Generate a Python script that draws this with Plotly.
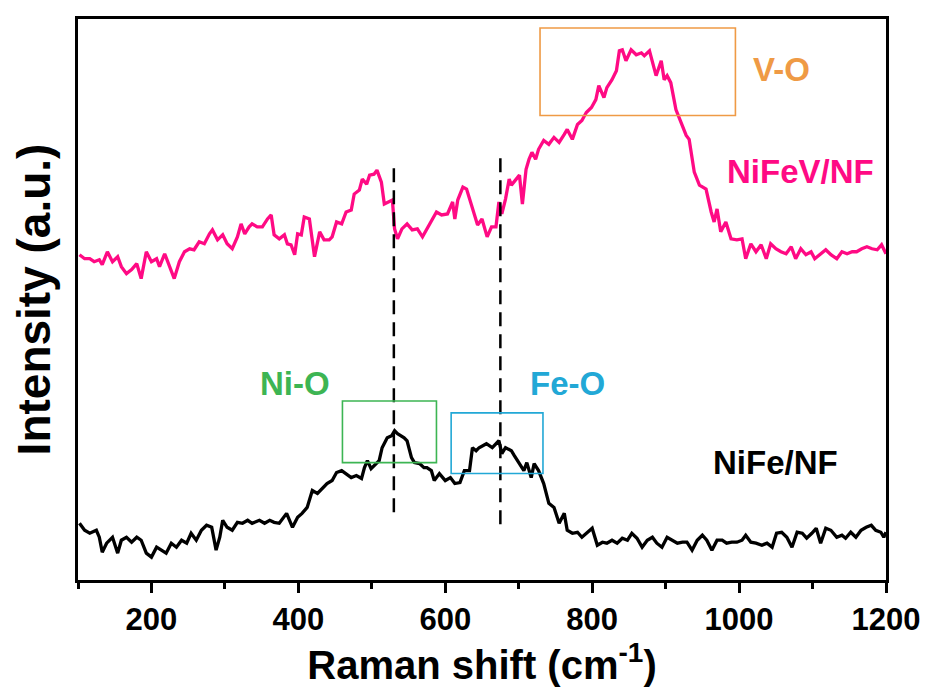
import plotly.graph_objects as go

# Raman shift (cm-1) and intensity (a.u.)
nifev_shift = [102,109,116,122,129,133,140,147,154,159,166,173,180,186,193,200,207,211,218,224,231,238,245,252,258,265,272,279,283,290,297,303,310,317,322,327,333,337,344,351,358,363,367,374,381,385,390,395,399,404,408,415,422,429,435,442,446,452,459,465,472,476,483,487,493,497,503,507,513,517,524,528,531,535,541,548,555,562,569,575,582,588,595,603,610,613,617,624,629,633,637,644,650,657,663,669,673,677,682,687,690,701,705,710,714,718,723,727,734,741,748,755,762,766,773,780,786,792,799,805,809,816,820,827,833,837,841,846,853,860,867,871,878,882,887,894,898,902,907,914,921,928,932,936,939,946,955,962,966,970,975,982,989,997,1004,1009,1016,1023,1030,1037,1043,1050,1057,1064,1071,1077,1084,1091,1098,1103,1110,1118,1125,1133,1140,1147,1154,1160,1167,1174,1181,1188,1194,1200]
nifev_int = [327,323,323,320,322,317,330,320,325,315,308,312,318,303,330,320,323,315,328,317,303,320,330,333,332,340,338,348,352,342,347,338,333,345,358,348,355,358,355,355,363,367,347,343,347,338,337,327,348,347,365,363,325,350,342,342,345,360,358,370,372,388,392,403,398,407,408,412,400,378,380,382,353,343,353,358,352,353,345,353,362,370,367,368,380,363,382,395,393,383,373,357,363,345,355,355,380,368,383,403,397,407,378,413,423,430,423,433,442,438,445,440,448,453,443,458,462,470,475,483,497,485,495,503,512,532,533,522,533,528,530,527,532,520,507,522,503,507,500,473,460,447,443,423,410,397,393,370,360,373,350,360,343,342,343,323,338,330,337,323,338,333,330,328,335,323,333,327,330,323,327,332,327,323,330,328,330,330,333,335,333,332,337,328]

nife_shift = [102,109,116,125,129,133,139,143,147,154,159,166,173,180,186,193,200,207,214,220,227,234,241,248,254,261,268,275,282,288,293,297,303,310,317,324,331,337,347,354,361,367,374,384,388,392,399,405,412,419,426,433,439,446,452,459,465,472,479,486,490,494,499,506,510,514,521,527,531,535,540,544,548,554,558,565,571,575,581,585,592,600,607,613,620,626,633,637,642,646,656,664,673,677,682,690,694,701,707,711,717,721,727,734,741,748,755,762,766,773,780,786,793,800,807,814,820,827,834,841,848,854,861,868,875,882,888,895,902,909,916,923,929,936,943,950,956,963,970,977,983,990,997,1004,1009,1016,1023,1031,1038,1045,1051,1058,1065,1072,1079,1086,1092,1099,1105,1111,1118,1125,1133,1140,1145,1152,1159,1166,1173,1180,1186,1193,1197,1200]
nife_int = [57,50,47,50,43,28,37,40,43,27,40,43,38,43,40,27,23,33,30,27,37,33,40,37,47,40,50,55,53,30,43,60,53,50,58,57,60,57,60,57,60,58,57,67,60,53,63,67,73,90,87,93,97,100,108,110,107,103,105,102,113,120,112,117,120,133,143,145,150,147,145,143,140,123,118,117,113,113,110,100,107,100,103,97,98,110,110,133,130,133,137,133,140,127,133,130,125,117,110,118,103,117,110,97,77,73,57,67,50,47,48,43,48,52,35,38,37,40,37,42,40,47,42,33,40,43,37,33,43,40,37,38,38,30,40,45,40,30,40,40,37,38,38,40,45,38,37,35,37,33,47,48,43,33,48,47,42,47,52,37,52,50,43,45,42,48,43,50,53,55,50,48,43,48]

peak_lines = [530, 675]
peak_line_top = [422, 428]
peak_line_bottom = [68, 56]

box_labels = ["Ni-O", "Fe-O", "V-O"]
box_x0 = [460, 608, 729]
box_x1 = [588, 733, 995]
box_y0 = [118, 107, 467]
box_y1 = [180, 168, 555]
box_colors = ["#3db553", "#22a8d6", "#ef9a45"]
label_x = [396, 766, 1058]
label_y = [198, 198, 513]

series_names = ["NiFeV/NF", "NiFe/NF"]
series_colors = ["#ff0a84", "#000000"]
series_label_x = [1083, 1049]
series_label_y = [411, 118]

x_range = [100, 1200]
y_range = [0, 564]

FONT = "Arial, Liberation Sans, sans-serif"

fig = go.Figure()
fig.add_trace(go.Scatter(x=nifev_shift, y=nifev_int, mode="lines", name=series_names[0],
                         line=dict(color=series_colors[0], width=3.3)))
fig.add_trace(go.Scatter(x=nife_shift, y=nife_int, mode="lines", name=series_names[1],
                         line=dict(color=series_colors[1], width=3.3)))

for xv, yt, yb in zip(peak_lines, peak_line_top, peak_line_bottom):
    fig.add_shape(type="line", x0=xv, x1=xv, y0=yb, y1=yt, xref="x", yref="y",
                  line=dict(color="black", width=2.5, dash="14px,8px"))

for x0, x1, y0, y1, c in zip(box_x0, box_x1, box_y0, box_y1, box_colors):
    fig.add_shape(type="rect", x0=x0, x1=x1, y0=y0, y1=y1, xref="x", yref="y",
                  line=dict(color=c, width=1.6))

for t, xv, yv, c in zip(box_labels, label_x, label_y, box_colors):
    fig.add_annotation(x=xv, y=yv, text=t, showarrow=False, xref="x", yref="y",
                       font=dict(family=FONT, size=33, color=c, weight="bold"))

for t, xv, yv, c in zip(series_names, series_label_x, series_label_y, series_colors):
    fig.add_annotation(x=xv, y=yv, text=t, showarrow=False, xref="x", yref="y",
                       font=dict(family=FONT, size=33, color=c, weight="bold"))

# the page body adds an 8 px offset, so the figure is sized and placed to compensate
fig.update_layout(
    width=925, height=690,
    margin=dict(l=70, r=47, t=8, b=118),
    paper_bgcolor="white", plot_bgcolor="white",
    showlegend=False,
    font=dict(family=FONT, color="black"),
)
fig.update_xaxes(
    range=x_range, showgrid=False, zeroline=False,
    showline=True, mirror=True, linecolor="black", linewidth=3,
    ticks="outside", ticklen=10, tickwidth=2.5, tickcolor="black",
    tick0=200, dtick=200,
    minor=dict(dtick=100, tick0=100, ticks="outside", ticklen=6, tickwidth=2.5, tickcolor="black"),
    tickfont=dict(family=FONT, size=31, color="black", weight="bold"),
    title=dict(text="Raman shift (cm<sup>-1</sup>)", standoff=8,
               font=dict(family=FONT, size=40, color="black", weight="bold")),
)
fig.update_yaxes(
    range=y_range, showgrid=False, zeroline=False,
    showline=True, mirror=True, linecolor="black", linewidth=3,
    ticks="", showticklabels=False,
    title=dict(text="Intensity (a.u.)", standoff=14,
               font=dict(family=FONT, size=46, color="black", weight="bold")),
)

fig.write_html("out.html")
